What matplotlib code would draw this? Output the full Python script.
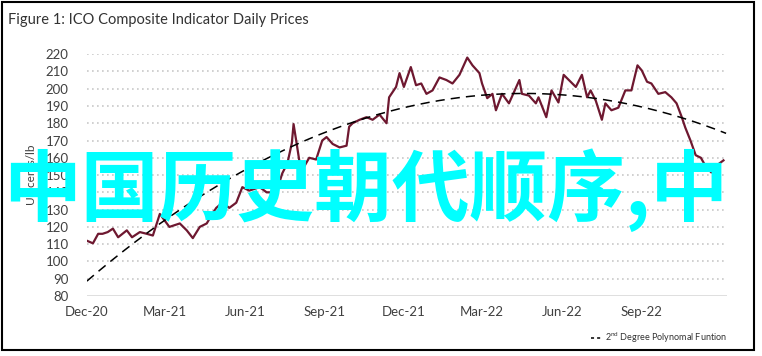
import numpy as np
import pandas as pd
import matplotlib
matplotlib.use("Agg")
import matplotlib.pyplot as plt
from matplotlib.lines import Line2D
from matplotlib.patches import Rectangle

# ICO composite indicator, days since 1 Dec 2020 and price (US cents/lb)
days = [0, 7, 13, 18, 24, 30, 36, 46, 52, 61, 69, 76, 84, 95, 107, 115, 122, 130,
        138, 145, 149, 156, 164, 172, 179, 187, 199, 207, 218, 225, 231, 236, 238,
        241, 245, 248, 256, 264, 271, 276, 283, 291, 299, 302, 306, 314, 322, 329,
        337, 345, 348, 356, 360, 365, 373, 379, 385, 391, 398, 406, 414, 421, 429,
        438, 444, 452, 455, 461, 467, 471, 478, 486, 498, 501, 509, 517, 520, 529,
        535, 543, 549, 555, 563, 570, 576, 580, 586, 593, 597, 604, 612, 620, 627,
        634, 639, 645, 650, 658, 666, 673, 679, 685, 689, 695, 701, 707, 712, 719,
        725, 733]
price = [112, 110.5, 116, 116, 117, 119, 114, 118, 114, 117, 116, 115, 127.5, 120,
         122, 118, 113.5, 120, 122, 128, 131, 134, 131, 134, 143, 141, 143, 140, 140,
         151, 157, 168.5, 179.5, 170, 157, 153, 160, 159, 170, 172, 168, 166, 167,
         178, 180, 182, 183.5, 182, 185, 180, 195, 201, 209, 201, 212.5, 202, 203,
         197, 199, 206.5, 205, 203, 208, 218, 213.5, 209, 203, 194.5, 197, 187.5,
         197, 191.5, 205, 197, 196, 191.5, 195, 183.5, 199, 192, 208, 205, 201, 208,
         195, 199, 193, 182, 191.5, 187.5, 189, 199, 199, 213.5, 210.5, 204, 203,
         197, 198, 195, 191.5, 183.5, 177.5, 170, 161.5, 160, 155.5, 151.5, 155.5,
         158.5]

tick_dates = ["2020-12-01", "2021-03-01", "2021-06-01", "2021-09-01",
              "2021-12-01", "2022-03-01", "2022-06-01", "2022-09-01"]
tick_labels = ["Dec-20", "Mar-21", "Jun-21", "Sep-21", "Dec-21", "Mar-22", "Jun-22", "Sep-22"]

start = pd.Timestamp("2020-12-01")
dates = start + pd.to_timedelta(days, unit="D")

# 2nd degree polynomial trend through the series
coef = np.polyfit(days, price, 2)
trend_days = np.arange(0, days[-1] + 4)
trend = np.polyval(coef, trend_days)
trend_dates = start + pd.to_timedelta(trend_days, unit="D")

plt.rcParams["font.family"] = ["Lato", "DejaVu Sans"]

fig = plt.figure(figsize=(7.62, 3.56), dpi=100)
ax = fig.add_axes([0.114, 0.1685, 0.840, 0.6795])

for v in range(90, 230, 10):
    ax.axhline(v, color="#c8c8c8", lw=1.2, ls=(0, (1, 2)), zorder=0)
ax.axhline(80, color="#d9d9d9", lw=1.2, zorder=0)

ax.plot(trend_dates, trend, color="black", lw=1.1, ls=(0, (6, 4)), zorder=3)
ax.plot(dates, price, color="#6e1830", lw=1.6, zorder=2)

ax.set_ylim(80, 220)
ax.set_xlim(start, start + pd.Timedelta(days=days[-1] + 4))
ax.set_yticks(range(80, 230, 10))
ax.set_xticks(pd.to_datetime(tick_dates))
ax.set_xticklabels(tick_labels)
ax.tick_params(length=0, labelsize=9.5, colors="#404040")
ax.tick_params(axis="y", pad=13)
ax.tick_params(axis="x", pad=7)
for s in ax.spines.values():
    s.set_visible(False)
ax.set_ylabel("US cents/lb", fontsize=8.5, color="#404040", labelpad=6)

fig.text(0.011, 0.945, "Figure 1: ICO Composite Indicator Daily Prices",
         fontsize=10.5, color="#333333", va="center")

handle = Line2D([], [], color="black", lw=1.1, ls=(0, (2, 2)))
fig.legend([handle], [r"2$^{\mathregular{nd}}$ Degree Polynomal Funtion"],
           loc="center right", bbox_to_anchor=(0.965, 0.05), frameon=False,
           fontsize=6.5, handlelength=1.2, handletextpad=0.4, labelcolor="#333333")

fig.patches.append(Rectangle((0.002, 0.017), 0.988, 0.978, transform=fig.transFigure,
                             fill=False, edgecolor="black", lw=1.5))

fig.text(0.48, 0.467, "中国历史朝代顺序,中", fontsize=56, color="#00ffff",
         ha="center", va="center", family=["Noto Sans CJK SC", "DejaVu Sans"],
         weight="bold", zorder=10)

fig.savefig("out.png", dpi=100)
